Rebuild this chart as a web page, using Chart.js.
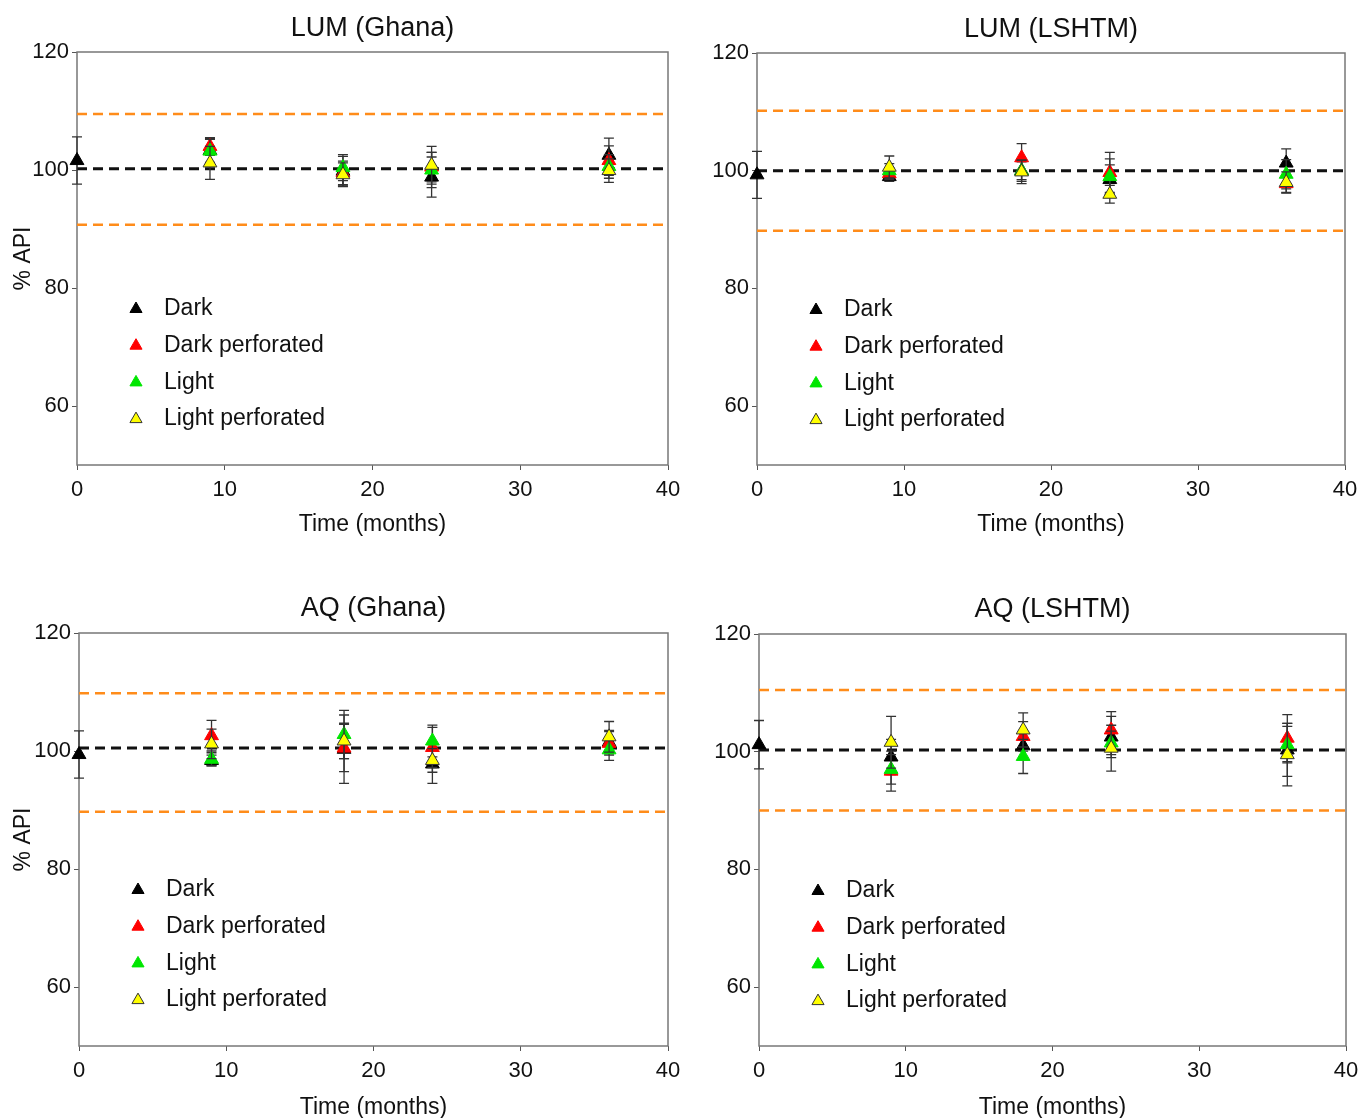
<!DOCTYPE html>
<html>
<head>
<meta charset="UTF-8">
<title>% API over time</title>
<script src="https://cdn.jsdelivr.net/npm/chart.js@4"></script>
<style>
  body { margin: 0; background: #fff; width: 1362px; height: 1118px; position: relative; overflow: hidden; }
  canvas { position: absolute; }
</style>
</head>
<body>
<canvas id="lumGhana" width="681" height="545" style="left:0;top:0"></canvas>
<canvas id="lumLshtm" width="681" height="545" style="left:681px;top:0"></canvas>
<canvas id="aqGhana" width="681" height="538" style="left:0;top:580px"></canvas>
<canvas id="aqLshtm" width="681" height="538" style="left:681px;top:580px"></canvas>
<script>
const months = [0, 9, 18, 24, 36];
const seriesNames = ['Dark', 'Dark perforated', 'Light', 'Light perforated'];
const seriesFill = ['#000000', '#ff0000', '#00e600', '#ffff00'];
const seriesEdge = ['#000000', '#ff0000', '#00e600', '#333333'];
const xTicks = [0, 10, 20, 30, 40];
const yTicks = [60, 80, 100, 120];

// rows follow seriesNames, columns follow months (null = not measured)
const lumGhanaMean = [
  [101.6, 103.3, 99.8, 98.8, 102.5],
  [null, 104.0, 99.5, 100.5, 101.6],
  [null, 103.2, 100.4, 100.0, 100.6],
  [null, 101.2, 99.2, 100.8, 99.9]
];
const lumGhanaSd = [
  [4.0, 2.0, 2.5, 3.4, 2.9],
  [null, 1.5, 2.0, 2.5, 2.5],
  [null, 2.0, 2.2, 3.0, 2.0],
  [null, 2.8, 2.0, 3.2, 2.0]
];
const lumGhanaLines = [109.5, 100.2, 90.7];

const lumLshtmMean = [
  [99.3, 99.0, 100.0, 98.5, 101.3],
  [null, 99.5, 102.2, 99.7, 97.8],
  [null, 100.0, 100.0, 99.0, 99.4],
  [null, 100.6, 99.8, 96.0, 98.0]
];
const lumLshtmSd = [
  [4.0, 0.8, 1.5, 2.5, 2.4],
  [null, 1.0, 2.4, 3.4, 1.5],
  [null, 1.2, 1.8, 3.0, 2.5],
  [null, 1.9, 2.0, 1.5, 1.8]
];
const lumLshtmLines = [110.2, 100.0, 89.8];

const aqGhanaMean = [
  [99.4, 98.4, 100.3, 97.8, 101.5],
  [null, 102.6, 100.5, 100.6, 101.3],
  [null, 98.6, 102.8, 101.7, 100.2],
  [null, 101.2, 101.7, 98.4, 102.4]
];
const aqGhanaSd = [
  [4.0, 0.9, 5.8, 3.3, 2.0],
  [null, 2.6, 4.0, 3.4, 2.0],
  [null, 1.1, 4.1, 2.7, 1.8],
  [null, 2.5, 3.0, 2.0, 2.6]
];
const aqGhanaLines = [109.8, 100.5, 89.7];

const aqLshtmMean = [
  [101.2, 99.1, 101.0, 102.5, 100.3],
  [null, 96.7, 102.6, 103.7, 102.3],
  [null, 97.0, 99.2, 101.5, 101.2],
  [null, 101.6, 103.7, 100.6, 99.5]
];
const aqLshtmSd = [
  [4.1, 3.0, 2.2, 3.5, 4.5],
  [null, 3.4, 2.5, 3.1, 4.0],
  [null, 2.5, 2.9, 2.0, 3.1],
  [null, 4.4, 2.9, 3.9, 5.3]
];
const aqLshtmLines = [110.5, 100.3, 90.0];

const FONT = '"Liberation Sans", Arial, sans-serif';

// frame around the plot area
const framePlugin = {
  id: 'frame',
  beforeDatasetsDraw(chart) {
    const a = chart.chartArea, ctx = chart.ctx;
    ctx.save();
    ctx.strokeStyle = '#777';
    ctx.lineWidth = 1.5;
    ctx.strokeRect(a.left, a.top, a.right - a.left, a.bottom - a.top);
    ctx.restore();
  }
};

// vertical error bars, drawn just under each series' markers
const errorBarPlugin = {
  id: 'errorBars',
  beforeDatasetDraw(chart, args) {
    const ds = chart.data.datasets[args.index];
    if (!ds.errorBars) return;
    const ctx = chart.ctx, xs = chart.scales.x, ys = chart.scales.y;
    ctx.save();
    ctx.strokeStyle = '#333';
    ctx.lineWidth = 1.3;
    ds.data.forEach(p => {
      if (p.sd == null) return;
      const x = xs.getPixelForValue(p.x);
      const top = ys.getPixelForValue(p.y + p.sd);
      const bot = ys.getPixelForValue(p.y - p.sd);
      ctx.beginPath();
      ctx.moveTo(x, top); ctx.lineTo(x, bot);
      ctx.moveTo(x - 5, top); ctx.lineTo(x + 5, top);
      ctx.moveTo(x - 5, bot); ctx.lineTo(x + 5, bot);
      ctx.stroke();
    });
    ctx.restore();
  }
};

// legend inside the plot, lower left
const innerLegendPlugin = {
  id: 'innerLegend',
  afterDraw(chart) {
    const a = chart.chartArea, ctx = chart.ctx;
    ctx.save();
    seriesNames.forEach((name, i) => {
      const y = a.top + 257 + i * 36.7;
      ctx.fillStyle = seriesFill[i];
      ctx.strokeStyle = seriesEdge[i];
      Chart.helpers.drawPoint(ctx, { pointStyle: 'triangle', radius: 7, borderWidth: 1 }, a.left + 59, y);
      ctx.fillStyle = '#111';
      ctx.font = '23px ' + FONT;
      ctx.textBaseline = 'middle';
      ctx.textAlign = 'left';
      ctx.fillText(name, a.left + 87, y);
    });
    ctx.restore();
  }
};

function makePanel(id, title, means, sds, lines, g) {
  const datasets = [];
  seriesNames.forEach((name, s) => {
    const pts = [];
    months.forEach((m, i) => {
      if (means[s][i] != null) pts.push({ x: m, y: means[s][i], sd: sds[s][i] });
    });
    datasets.push({
      label: name,
      data: pts,
      errorBars: true,
      pointStyle: 'triangle',
      pointRadius: 8,
      backgroundColor: seriesFill[s],
      borderColor: seriesEdge[s],
      borderWidth: 1,
      showLine: false,
      clip: false,
      order: 4 - s
    });
  });
  lines.forEach((v, i) => {
    datasets.push({
      label: 'ref' + i,
      data: [{ x: 0, y: v }, { x: 40, y: v }],
      showLine: true,
      pointRadius: 0,
      borderColor: i === 1 ? '#111111' : '#ff8c1a',
      borderWidth: i === 1 ? 3 : 2.5,
      borderDash: [10, 6],
      order: 10
    });
  });

  new Chart(document.getElementById(id), {
    type: 'scatter',
    data: { datasets },
    options: {
      responsive: false,
      animation: false,
      events: [],
      layout: { padding: { left: 0, right: g.padRight, top: 0, bottom: 0 } },
      plugins: {
        legend: { display: false },
        tooltip: { enabled: false },
        title: {
          display: true,
          text: title,
          fullSize: false,
          color: '#111',
          font: { family: FONT, size: 27, weight: 'normal' },
          padding: { top: g.titleTop, bottom: g.titleBottom }
        }
      },
      scales: {
        x: {
          type: 'linear',
          min: 0, max: 40,
          afterBuildTicks: s => { s.ticks = xTicks.map(v => ({ value: v })); },
          afterFit: s => { s.height = g.xHeight; s.paddingLeft = 0; s.paddingRight = 0; },
          grid: { display: true, drawOnChartArea: false, drawTicks: true, tickLength: 5, color: '#555' },
          border: { display: false },
          ticks: { color: '#111', padding: 7, maxRotation: 0, font: { family: FONT, size: 22 } },
          title: {
            display: true,
            text: 'Time (months)',
            color: '#111',
            font: { family: FONT, size: 23 },
            padding: { top: 0, bottom: g.xTitleBottom }
          }
        },
        y: {
          type: 'linear',
          min: 50, max: 120,
          afterBuildTicks: s => { s.ticks = yTicks.map(v => ({ value: v })); },
          afterFit: s => { s.width = g.plotLeft; },
          grid: { display: true, drawOnChartArea: false, drawTicks: true, tickLength: 5, color: '#555' },
          border: { display: false },
          ticks: { color: '#111', padding: 3, font: { family: FONT, size: 22 } },
          title: {
            display: g.yTitle,
            text: '% API',
            color: '#111',
            font: { family: FONT, size: 23 },
            padding: { top: 10, bottom: 0 }
          }
        }
      }
    },
    plugins: [framePlugin, errorBarPlugin, innerLegendPlugin]
  });
}

makePanel('lumGhana', 'LUM (Ghana)', lumGhanaMean, lumGhanaSd, lumGhanaLines,
  { plotLeft: 77, padRight: 13, titleTop: 12.8, titleBottom: 6.8, xHeight: 80, xTitleBottom: 6.2, yTitle: true });
makePanel('lumLshtm', 'LUM (LSHTM)', lumLshtmMean, lumLshtmSd, lumLshtmLines,
  { plotLeft: 76, padRight: 17, titleTop: 13.8, titleBottom: 6.8, xHeight: 80, xTitleBottom: 6.2, yTitle: false });
makePanel('aqGhana', 'AQ (Ghana)', aqGhanaMean, aqGhanaSd, aqGhanaLines,
  { plotLeft: 79, padRight: 13, titleTop: 12.8, titleBottom: 7.8, xHeight: 72, xTitleBottom: -3, yTitle: true });
makePanel('aqLshtm', 'AQ (LSHTM)', aqLshtmMean, aqLshtmSd, aqLshtmLines,
  { plotLeft: 78, padRight: 16, titleTop: 13.8, titleBottom: 7.8, xHeight: 72, xTitleBottom: -3, yTitle: false });
</script>
</body>
</html>
